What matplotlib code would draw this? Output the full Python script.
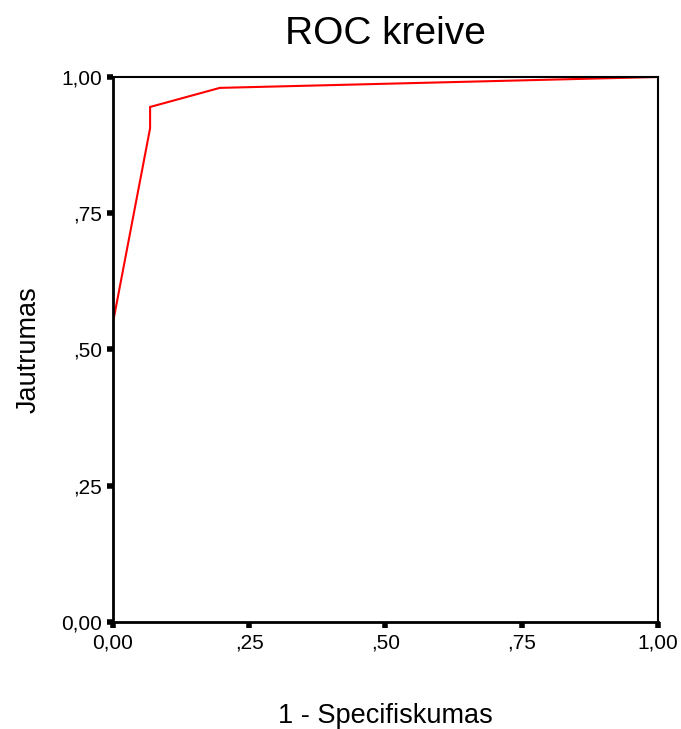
import matplotlib
matplotlib.use("Agg")
import matplotlib.pyplot as plt
from matplotlib.ticker import FixedLocator, FuncFormatter

# ROC curve points (1 - specificity, sensitivity)
fpr = [0.0, 0.0, 0.068, 0.068, 0.196, 1.0]
tpr = [0.0, 0.55, 0.906, 0.945, 0.98, 1.0]
ticks = [0.0, 0.25, 0.5, 0.75, 1.0]
tick_labels = ["0,00", ",25", ",50", ",75", "1,00"]

plt.rcParams["font.family"] = ["Liberation Sans", "DejaVu Sans"]

fig = plt.figure(figsize=(6.81, 7.29), dpi=100)
ax = fig.add_axes([0.166, 0.1468, 0.8, 0.7476])

ax.plot(fpr, tpr, color="red", linewidth=1.5, solid_joinstyle="miter")

ax.set_xlim(0, 1)
ax.set_ylim(0, 1)
ax.xaxis.set_major_locator(FixedLocator(ticks))
ax.yaxis.set_major_locator(FixedLocator(ticks))
ax.xaxis.set_major_formatter(FuncFormatter(lambda v, p: tick_labels[p]))
ax.yaxis.set_major_formatter(FuncFormatter(lambda v, p: tick_labels[p]))
ax.tick_params(direction="out", length=4, width=4, labelsize=15, pad=4)

for side in ["left", "bottom"]:
    ax.spines[side].set_linewidth(2)
for side in ["top", "right"]:
    ax.spines[side].set_linewidth(1.5)

ax.set_title("ROC kreive", fontsize=28, pad=24)
ax.set_xlabel("1 - Specifiskumas", fontsize=19.5, labelpad=37)
ax.set_ylabel("Jautrumas", fontsize=19.5, labelpad=14)

fig.savefig("out.png", dpi=100)
